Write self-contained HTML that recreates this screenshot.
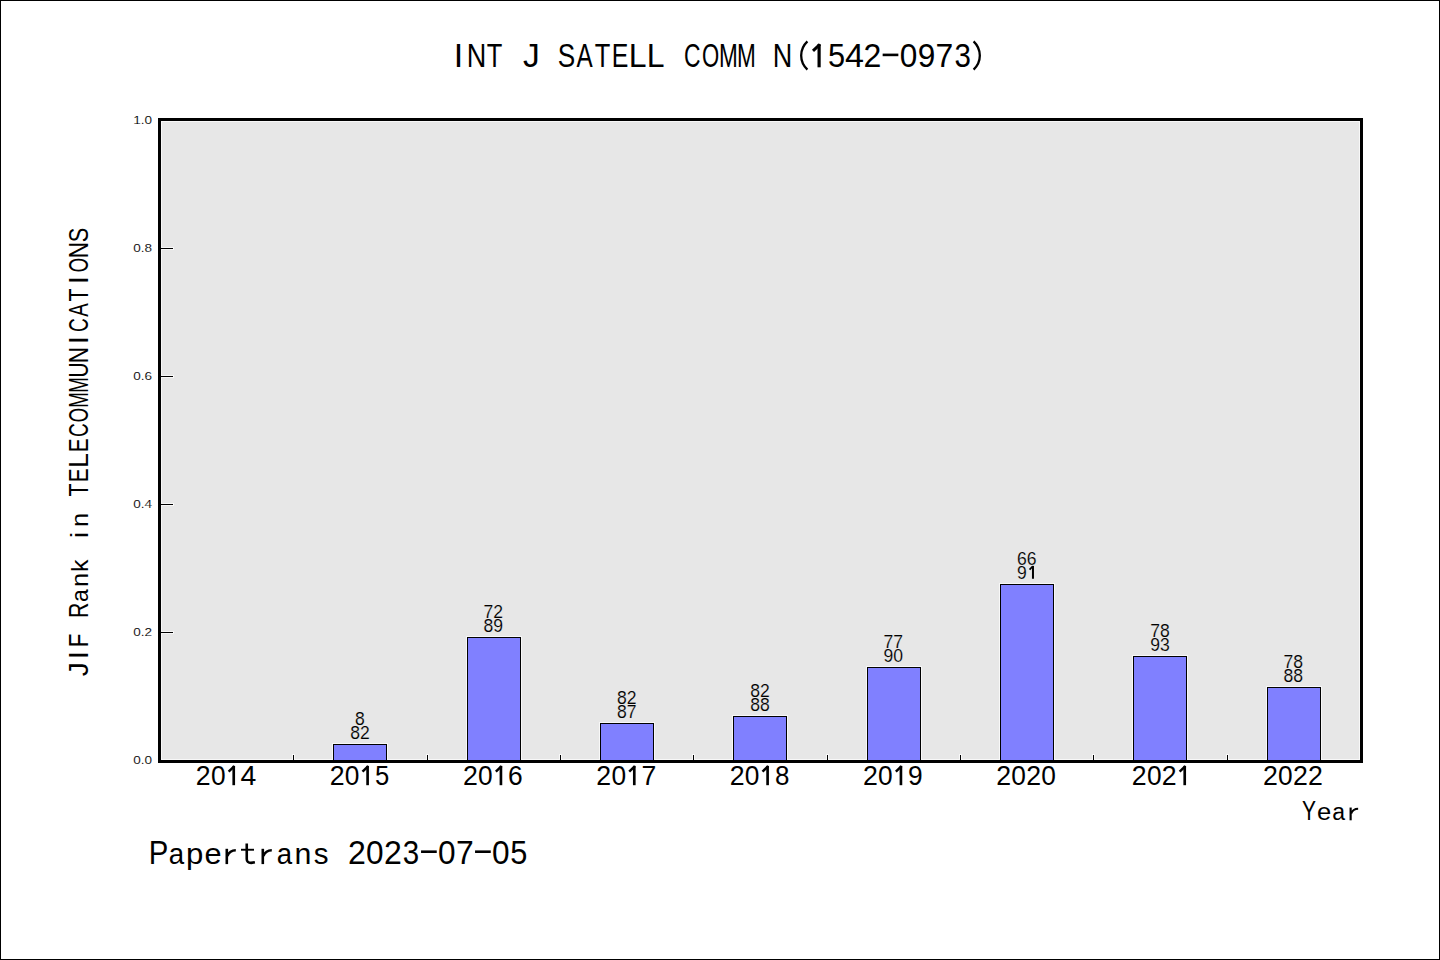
<!DOCTYPE html><html><head><meta charset="utf-8"><style>
html,body{margin:0;padding:0;background:#fff;}
body{width:1440px;height:960px;overflow:hidden;}
svg{display:block;font-family:"Liberation Sans",sans-serif;}
.m text{stroke:none;}
.lb{stroke:#e7e7e7;stroke-width:0.15;}
</style></head><body>
<svg width="1440" height="960" viewBox="0 0 1440 960">
<rect x="0" y="0" width="1440" height="960" fill="#fff"/>
<rect x="0.5" y="0.5" width="1439" height="959" fill="none" stroke="#000" stroke-width="1"/>
<rect x="158" y="118" width="1205" height="645" fill="#f8f8f8"/>
<rect x="162" y="122" width="1197" height="637" fill="#e7e7e7"/>
<rect x="161" y="631" width="13" height="3" fill="#f8f8f8"/>
<rect x="161" y="632" width="12" height="1" fill="#000"/>
<rect x="161" y="503" width="13" height="3" fill="#f8f8f8"/>
<rect x="161" y="504" width="12" height="1" fill="#000"/>
<rect x="161" y="375" width="13" height="3" fill="#f8f8f8"/>
<rect x="161" y="376" width="12" height="1" fill="#000"/>
<rect x="161" y="247" width="13" height="3" fill="#f8f8f8"/>
<rect x="161" y="248" width="12" height="1" fill="#000"/>
<rect x="292" y="754" width="3" height="6" fill="#f8f8f8"/>
<rect x="293" y="755" width="1" height="5" fill="#000"/>
<rect x="426" y="754" width="3" height="6" fill="#f8f8f8"/>
<rect x="427" y="755" width="1" height="5" fill="#000"/>
<rect x="559" y="754" width="3" height="6" fill="#f8f8f8"/>
<rect x="560" y="755" width="1" height="5" fill="#000"/>
<rect x="692" y="754" width="3" height="6" fill="#f8f8f8"/>
<rect x="693" y="755" width="1" height="5" fill="#000"/>
<rect x="826" y="754" width="3" height="6" fill="#f8f8f8"/>
<rect x="827" y="755" width="1" height="5" fill="#000"/>
<rect x="959" y="754" width="3" height="6" fill="#f8f8f8"/>
<rect x="960" y="755" width="1" height="5" fill="#000"/>
<rect x="1092" y="754" width="3" height="6" fill="#f8f8f8"/>
<rect x="1093" y="755" width="1" height="5" fill="#000"/>
<rect x="1226" y="754" width="3" height="6" fill="#f8f8f8"/>
<rect x="1227" y="755" width="1" height="5" fill="#000"/>
<rect x="332" y="743" width="56" height="17" fill="#f8f8f8"/>
<rect x="333" y="744" width="54" height="16" fill="#000"/>
<rect x="334" y="745" width="52" height="16" fill="#8080ff"/>
<text transform="translate(360.00 724.50) scale(0.95 1)" font-size="18.5" text-anchor="middle" class="lb">8</text>
<text transform="translate(360.00 738.70) scale(0.95 1)" font-size="18.5" text-anchor="middle" class="lb">82</text>
<rect x="466" y="636" width="56" height="124" fill="#f8f8f8"/>
<rect x="467" y="637" width="54" height="123" fill="#000"/>
<rect x="468" y="638" width="52" height="123" fill="#8080ff"/>
<text transform="translate(493.33 617.50) scale(0.95 1)" font-size="18.5" text-anchor="middle" class="lb">72</text>
<text transform="translate(493.33 631.70) scale(0.95 1)" font-size="18.5" text-anchor="middle" class="lb">89</text>
<rect x="599" y="722" width="56" height="38" fill="#f8f8f8"/>
<rect x="600" y="723" width="54" height="37" fill="#000"/>
<rect x="601" y="724" width="52" height="37" fill="#8080ff"/>
<text transform="translate(626.67 703.50) scale(0.95 1)" font-size="18.5" text-anchor="middle" class="lb">82</text>
<text transform="translate(626.67 717.70) scale(0.95 1)" font-size="18.5" text-anchor="middle" class="lb">87</text>
<rect x="732" y="715" width="56" height="45" fill="#f8f8f8"/>
<rect x="733" y="716" width="54" height="44" fill="#000"/>
<rect x="734" y="717" width="52" height="44" fill="#8080ff"/>
<text transform="translate(760.00 696.50) scale(0.95 1)" font-size="18.5" text-anchor="middle" class="lb">82</text>
<text transform="translate(760.00 710.70) scale(0.95 1)" font-size="18.5" text-anchor="middle" class="lb">88</text>
<rect x="866" y="666" width="56" height="94" fill="#f8f8f8"/>
<rect x="867" y="667" width="54" height="93" fill="#000"/>
<rect x="868" y="668" width="52" height="93" fill="#8080ff"/>
<text transform="translate(893.33 647.50) scale(0.95 1)" font-size="18.5" text-anchor="middle" class="lb">77</text>
<text transform="translate(893.33 661.70) scale(0.95 1)" font-size="18.5" text-anchor="middle" class="lb">90</text>
<rect x="999" y="583" width="56" height="177" fill="#f8f8f8"/>
<rect x="1000" y="584" width="54" height="176" fill="#000"/>
<rect x="1001" y="585" width="52" height="176" fill="#8080ff"/>
<text transform="translate(1026.67 564.50) scale(0.95 1)" font-size="18.5" text-anchor="middle" class="lb">66</text>
<text transform="translate(1016.90 578.70) scale(0.95 1)" font-size="18.5" class="lb">9</text>
<rect x="1031.97" y="565.90" width="2.0" height="12.85"/>
<path d="M1029.57 569.70L1032.67 566.40" stroke="#000" stroke-width="1.7" fill="none"/>
<rect x="1132" y="655" width="56" height="105" fill="#f8f8f8"/>
<rect x="1133" y="656" width="54" height="104" fill="#000"/>
<rect x="1134" y="657" width="52" height="104" fill="#8080ff"/>
<text transform="translate(1160.00 636.50) scale(0.95 1)" font-size="18.5" text-anchor="middle" class="lb">78</text>
<text transform="translate(1160.00 650.70) scale(0.95 1)" font-size="18.5" text-anchor="middle" class="lb">93</text>
<rect x="1266" y="686" width="56" height="74" fill="#f8f8f8"/>
<rect x="1267" y="687" width="54" height="73" fill="#000"/>
<rect x="1268" y="688" width="52" height="73" fill="#8080ff"/>
<text transform="translate(1293.33 667.50) scale(0.95 1)" font-size="18.5" text-anchor="middle" class="lb">78</text>
<text transform="translate(1293.33 681.70) scale(0.95 1)" font-size="18.5" text-anchor="middle" class="lb">88</text>
<rect x="159.5" y="119.5" width="1202" height="642" fill="none" stroke="#000" stroke-width="3"/>
<text transform="translate(152 764.00) scale(1.18 1)" font-size="11.5" text-anchor="end" stroke="#fff" stroke-width="0.1">0.0</text>
<text transform="translate(152 636.00) scale(1.18 1)" font-size="11.5" text-anchor="end" stroke="#fff" stroke-width="0.1">0.2</text>
<text transform="translate(152 508.00) scale(1.18 1)" font-size="11.5" text-anchor="end" stroke="#fff" stroke-width="0.1">0.4</text>
<text transform="translate(152 380.00) scale(1.18 1)" font-size="11.5" text-anchor="end" stroke="#fff" stroke-width="0.1">0.6</text>
<text transform="translate(152 252.00) scale(1.18 1)" font-size="11.5" text-anchor="end" stroke="#fff" stroke-width="0.1">0.8</text>
<text transform="translate(152 124.00) scale(1.18 1)" font-size="11.5" text-anchor="end" stroke="#fff" stroke-width="0.1">1.0</text>
<g font-size="28.33" text-anchor="middle" class="m"><text transform="translate(203.23 785.20) scale(0.943 1.000)">2</text><text transform="translate(218.23 785.20) scale(0.929 1.000)">0</text><g transform="translate(233.23 785.20) scale(0.8333)"><path d="M-1 0h3.2v-23.2h-3.2z"/><path d="M-5.5 -16.4L1.4 -23" stroke="#000" stroke-width="3" fill="none"/></g><text transform="translate(248.32 785.20) scale(1.004 1.000)">4</text></g>
<g font-size="28.33" text-anchor="middle" class="m"><text transform="translate(337.10 785.20) scale(0.943 1.000)">2</text><text transform="translate(352.10 785.20) scale(0.929 1.000)">0</text><g transform="translate(367.10 785.20) scale(0.8333)"><path d="M-1 0h3.2v-23.2h-3.2z"/><path d="M-5.5 -16.4L1.4 -23" stroke="#000" stroke-width="3" fill="none"/></g><text transform="translate(382.13 785.20) scale(0.906 1.000)">5</text></g>
<g font-size="28.33" text-anchor="middle" class="m"><text transform="translate(470.43 785.20) scale(0.943 1.000)">2</text><text transform="translate(485.43 785.20) scale(0.929 1.000)">0</text><g transform="translate(500.43 785.20) scale(0.8333)"><path d="M-1 0h3.2v-23.2h-3.2z"/><path d="M-5.5 -16.4L1.4 -23" stroke="#000" stroke-width="3" fill="none"/></g><text transform="translate(515.34 785.20) scale(0.931 1.000)">6</text></g>
<g font-size="28.33" text-anchor="middle" class="m"><text transform="translate(603.79 785.20) scale(0.943 1.000)">2</text><text transform="translate(618.79 785.20) scale(0.929 1.000)">0</text><g transform="translate(633.79 785.20) scale(0.8333)"><path d="M-1 0h3.2v-23.2h-3.2z"/><path d="M-5.5 -16.4L1.4 -23" stroke="#000" stroke-width="3" fill="none"/></g><text transform="translate(648.77 785.20) scale(0.938 1.000)">7</text></g>
<g font-size="28.33" text-anchor="middle" class="m"><text transform="translate(737.10 785.20) scale(0.943 1.000)">2</text><text transform="translate(752.10 785.20) scale(0.929 1.000)">0</text><g transform="translate(767.10 785.20) scale(0.8333)"><path d="M-1 0h3.2v-23.2h-3.2z"/><path d="M-5.5 -16.4L1.4 -23" stroke="#000" stroke-width="3" fill="none"/></g><text transform="translate(782.10 785.20) scale(0.915 1.000)">8</text></g>
<g font-size="28.33" text-anchor="middle" class="m"><text transform="translate(870.43 785.20) scale(0.943 1.000)">2</text><text transform="translate(885.43 785.20) scale(0.929 1.000)">0</text><g transform="translate(900.43 785.20) scale(0.8333)"><path d="M-1 0h3.2v-23.2h-3.2z"/><path d="M-5.5 -16.4L1.4 -23" stroke="#000" stroke-width="3" fill="none"/></g><text transform="translate(915.44 785.20) scale(0.930 1.000)">9</text></g>
<g font-size="28.33" text-anchor="middle" class="m"><text transform="translate(1003.66 785.20) scale(0.943 1.000)">2</text><text transform="translate(1018.66 785.20) scale(0.929 1.000)">0</text><text transform="translate(1033.66 785.20) scale(0.943 1.000)">2</text><text transform="translate(1048.66 785.20) scale(0.929 1.000)">0</text></g>
<g font-size="28.33" text-anchor="middle" class="m"><text transform="translate(1139.22 785.20) scale(0.943 1.000)">2</text><text transform="translate(1154.22 785.20) scale(0.929 1.000)">0</text><text transform="translate(1169.22 785.20) scale(0.943 1.000)">2</text><g transform="translate(1184.22 785.20) scale(0.8333)"><path d="M-1 0h3.2v-23.2h-3.2z"/><path d="M-5.5 -16.4L1.4 -23" stroke="#000" stroke-width="3" fill="none"/></g></g>
<g font-size="28.33" text-anchor="middle" class="m"><text transform="translate(1270.43 785.20) scale(0.943 1.000)">2</text><text transform="translate(1285.43 785.20) scale(0.929 1.000)">0</text><text transform="translate(1300.43 785.20) scale(0.943 1.000)">2</text><text transform="translate(1315.43 785.20) scale(0.943 1.000)">2</text></g>
<g font-size="34.00" text-anchor="middle" class="m"><text transform="translate(458.50 67.30) scale(1.000 1.000)">I</text><text transform="translate(476.49 67.30) scale(0.795 1.000)">N</text><text transform="translate(494.51 67.30) scale(0.749 1.000)">T</text><text transform="translate(531.48 67.30) scale(0.986 1.000)">J</text><text transform="translate(566.51 67.30) scale(0.771 1.000)">S</text><text transform="translate(584.50 67.30) scale(0.714 1.000)">A</text><text transform="translate(602.51 67.30) scale(0.749 1.000)">T</text><text transform="translate(620.01 67.30) scale(0.733 1.000)">E</text><text transform="translate(637.72 67.30) scale(0.941 1.000)">L</text><text transform="translate(655.72 67.30) scale(0.941 1.000)">L</text><text transform="translate(692.35 67.30) scale(0.673 1.000)">C</text><text transform="translate(710.51 67.30) scale(0.651 1.000)">O</text><text transform="translate(728.50 67.30) scale(0.664 1.000)">M</text><text transform="translate(746.50 67.30) scale(0.664 1.000)">M</text><text transform="translate(782.49 67.30) scale(0.795 1.000)">N</text><g transform="translate(800.50 67.30) scale(1.0000)"><path d="M6.9 -26C-1.4 -18 -1.4 -5.7 6.9 2.3" stroke="#000" stroke-width="2.3" fill="none"/></g><g transform="translate(818.50 67.30) scale(1.0000)"><path d="M-1 0h3.2v-23.2h-3.2z"/><path d="M-5.5 -16.4L1.4 -23" stroke="#000" stroke-width="3" fill="none"/></g><text transform="translate(836.53 67.30) scale(0.906 1.000)">5</text><text transform="translate(854.61 67.30) scale(1.004 1.000)">4</text><text transform="translate(872.50 67.30) scale(0.943 1.000)">2</text><rect x="882.65" y="53.60" width="15.70" height="2.60"/><text transform="translate(908.50 67.30) scale(0.929 1.000)">0</text><text transform="translate(926.51 67.30) scale(0.930 1.000)">9</text><text transform="translate(944.48 67.30) scale(0.938 1.000)">7</text><text transform="translate(962.59 67.30) scale(0.868 1.000)">3</text><g transform="translate(980.50 67.30) scale(1.0000)"><path d="M-6.9 -26C1.4 -18 1.4 -5.7 -6.9 2.3" stroke="#000" stroke-width="2.3" fill="none"/></g></g>
<g font-size="28.33" text-anchor="middle" class="m"><text transform="translate(88.30 669.18) rotate(-90) scale(0.986 1.000)">J</text><text transform="translate(88.30 655.00) rotate(-90) scale(1.000 1.000)">I</text><text transform="translate(88.30 640.47) rotate(-90) scale(0.782 1.000)">F</text><text transform="translate(88.30 610.38) rotate(-90) scale(0.753 1.000)">R</text><text transform="translate(88.30 595.49) rotate(-90) scale(0.813 0.860)">a</text><text transform="translate(88.30 580.02) rotate(-90) scale(0.893 0.860)">n</text><text transform="translate(88.30 565.86) rotate(-90) scale(0.881 0.860)">k</text><text transform="translate(88.30 534.99) rotate(-90) scale(1.000 0.860)">i</text><text transform="translate(88.30 520.02) rotate(-90) scale(0.893 0.860)">n</text><text transform="translate(88.30 489.99) rotate(-90) scale(0.749 1.000)">T</text><text transform="translate(88.30 475.41) rotate(-90) scale(0.733 1.000)">E</text><text transform="translate(88.30 460.65) rotate(-90) scale(0.941 1.000)">L</text><text transform="translate(88.30 445.41) rotate(-90) scale(0.733 1.000)">E</text><text transform="translate(88.30 430.12) rotate(-90) scale(0.673 1.000)">C</text><text transform="translate(88.30 415.00) rotate(-90) scale(0.651 1.000)">O</text><text transform="translate(88.30 400.00) rotate(-90) scale(0.664 1.000)">M</text><text transform="translate(88.30 385.00) rotate(-90) scale(0.664 1.000)">M</text><text transform="translate(88.30 370.00) rotate(-90) scale(0.751 1.000)">U</text><text transform="translate(88.30 355.01) rotate(-90) scale(0.795 1.000)">N</text><text transform="translate(88.30 340.00) rotate(-90) scale(1.000 1.000)">I</text><text transform="translate(88.30 325.12) rotate(-90) scale(0.673 1.000)">C</text><text transform="translate(88.30 310.00) rotate(-90) scale(0.714 1.000)">A</text><text transform="translate(88.30 294.99) rotate(-90) scale(0.749 1.000)">T</text><text transform="translate(88.30 280.00) rotate(-90) scale(1.000 1.000)">I</text><text transform="translate(88.30 265.00) rotate(-90) scale(0.651 1.000)">O</text><text transform="translate(88.30 250.01) rotate(-90) scale(0.795 1.000)">N</text><text transform="translate(88.30 234.99) rotate(-90) scale(0.771 1.000)">S</text></g>
<g font-size="28.33" text-anchor="middle" class="m"><text transform="translate(1309.05 820.30) scale(0.741 1.000)">Y</text><text transform="translate(1324.07 820.30) scale(0.903 0.860)">e</text><text transform="translate(1338.56 820.30) scale(0.813 0.860)">a</text><g transform="translate(1354.05 820.30) scale(0.8333)"><path d="M-4.1 0V-15.3" stroke="#000" stroke-width="2.6" fill="none"/><path d="M-3.6 -8.2Q-1.2 -13.8 4.9 -13.9" stroke="#000" stroke-width="2.6" fill="none"/></g></g>
<g font-size="34.00" text-anchor="middle" class="m"><text transform="translate(158.47 864.10) scale(0.862 1.000)">P</text><text transform="translate(176.31 864.10) scale(0.813 0.860)">a</text><text transform="translate(194.55 864.10) scale(0.916 0.860)">p</text><text transform="translate(212.93 864.10) scale(0.903 0.860)">e</text><g transform="translate(230.90 864.10) scale(1.0000)"><path d="M-4.1 0V-15.3" stroke="#000" stroke-width="2.6" fill="none"/><path d="M-3.6 -8.2Q-1.2 -13.8 4.9 -13.9" stroke="#000" stroke-width="2.6" fill="none"/></g><g transform="translate(248.90 864.10) scale(1.0000)"><path d="M-7.9 -15.3h13v1.9h-13z"/><path d="M-2.15 -20.6V-5.2Q-2.15 -1.25 2.2 -1.25L6 -1.9" stroke="#000" stroke-width="2.6" fill="none"/></g><g transform="translate(266.90 864.10) scale(1.0000)"><path d="M-4.1 0V-15.3" stroke="#000" stroke-width="2.6" fill="none"/><path d="M-3.6 -8.2Q-1.2 -13.8 4.9 -13.9" stroke="#000" stroke-width="2.6" fill="none"/></g><text transform="translate(284.31 864.10) scale(0.813 0.860)">a</text><text transform="translate(302.88 864.10) scale(0.893 0.860)">n</text><text transform="translate(321.02 864.10) scale(0.870 0.860)">s</text><text transform="translate(356.90 864.10) scale(0.943 1.000)">2</text><text transform="translate(374.90 864.10) scale(0.929 1.000)">0</text><text transform="translate(392.90 864.10) scale(0.943 1.000)">2</text><text transform="translate(410.99 864.10) scale(0.868 1.000)">3</text><rect x="421.05" y="850.40" width="15.70" height="2.60"/><text transform="translate(446.90 864.10) scale(0.929 1.000)">0</text><text transform="translate(464.88 864.10) scale(0.938 1.000)">7</text><rect x="475.05" y="850.40" width="15.70" height="2.60"/><text transform="translate(500.90 864.10) scale(0.929 1.000)">0</text><text transform="translate(518.93 864.10) scale(0.906 1.000)">5</text></g>
</svg></body></html>
